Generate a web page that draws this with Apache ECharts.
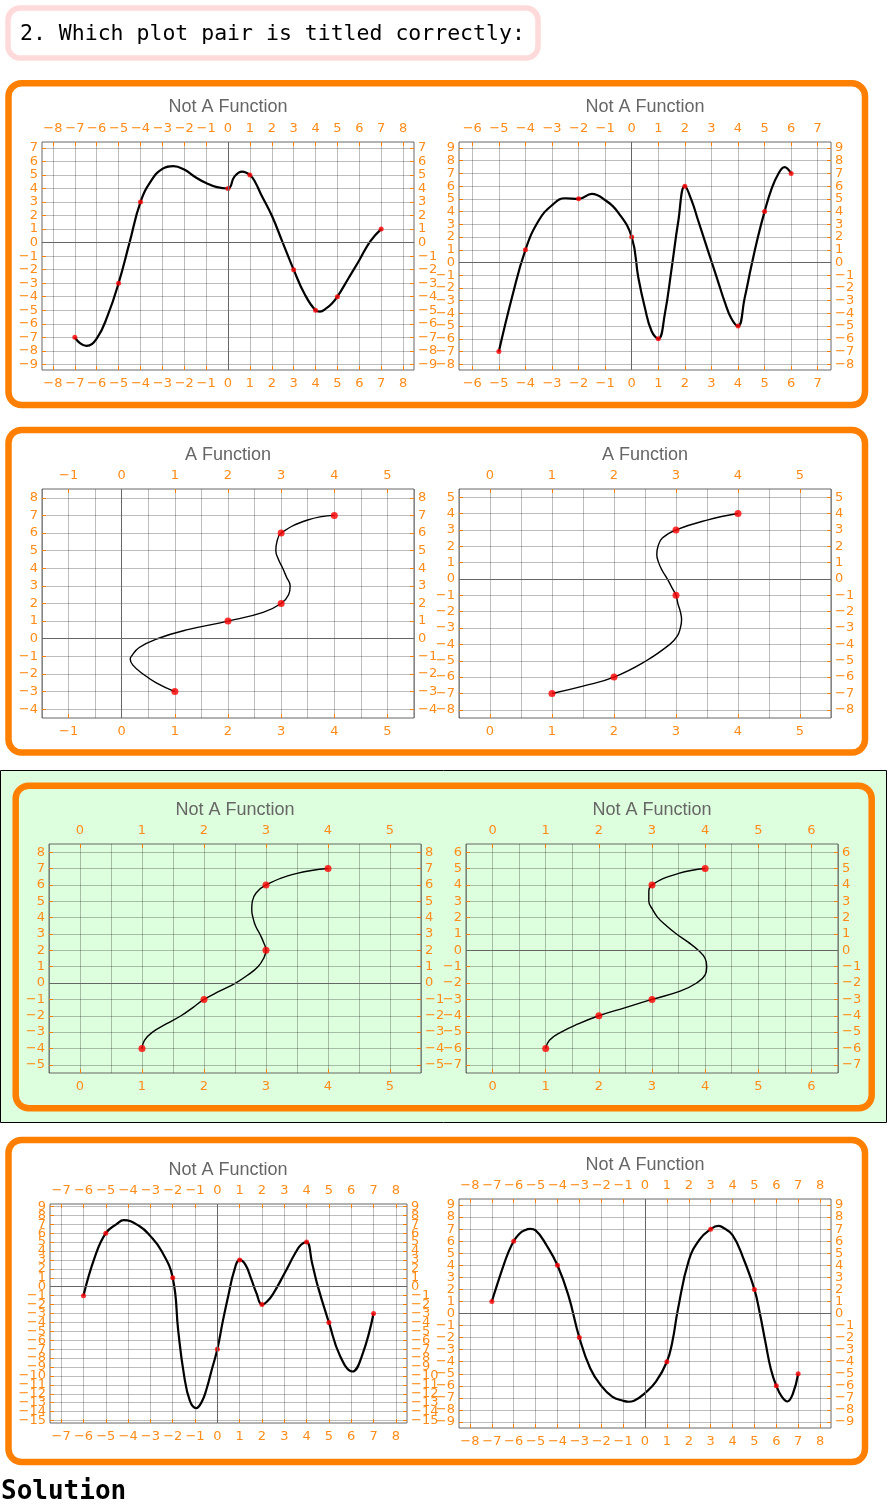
<!DOCTYPE html>
<html><head><meta charset="utf-8">
<script src="https://cdn.jsdelivr.net/npm/echarts@6.0.0/dist/echarts.min.js"></script>
<style>html,body{margin:0;padding:0;background:#fff}#c{width:888px;height:1508px}</style>
</head><body><div id="c"></div>
<script>
// ---------------- DATA ----------------
const questionText = '2. Which plot pair is titled correctly:';
const solutionText = 'Solution';
const titles = ['Not A Function','Not A Function','A Function','A Function','Not A Function','Not A Function','Not A Function','Not A Function'];

// Plot 1
const p1PtX = [-7,-5,-4,0,1,3,4,5,7];
const p1PtY = [-7,-3,3,4,5,-2,-5,-4,1];
const p1CurveX = [-7,-6.75,-6.47,-6,-5.5,-5,-4.5,-4,-3.5,-3,-2.5,-2,-1.5,-1,-0.5,0,0.3,0.65,1,1.25,1.5,2,2.5,3,3.5,4,4.2,4.5,4.75,5,5.5,6,6.5,7];
const p1CurveY = [-7,-7.45,-7.64,-7.1,-5.4,-3,0,3,4.6,5.45,5.65,5.4,4.85,4.4,4.1,4,4.9,5.25,5,4.45,3.6,2,0,-2,-3.8,-5,-5.1,-4.85,-4.5,-4,-2.65,-1.3,0.1,1];
const p1XRange = [-8.5,8.5], p1YRange = [-9.42,7.44];
const p1XTicks = [-8,-7,-6,-5,-4,-3,-2,-1,0,1,2,3,4,5,6,7,8];
const p1YTicks = [-9,-8,-7,-6,-5,-4,-3,-2,-1,0,1,2,3,4,5,6,7];

// Plot 2
const p2PtX = [-5,-4,-2,0,1,2,4,5,6];
const p2PtY = [-7,1,5,2,-6,6,-5,4,7];
const p2CurveX = [-5,-4.5,-4,-3.5,-3,-2.5,-2,-1.5,-1,-0.5,0,0.25,0.5,0.75,1,1.25,1.5,1.75,2,2.25,2.5,2.75,3,3.25,3.5,3.75,4,4.25,4.5,4.75,5,5.25,5.5,5.75,6];
const p2CurveY = [-7,-2.7,1,3.3,4.5,5.05,5,5.4,4.9,3.9,2,-1.2,-3.6,-5.4,-6,-4,-0.5,3.2,6,4.9,3.3,1.7,0.1,-1.5,-3.1,-4.4,-5,-2.8,-0.3,2,4,5.7,6.9,7.5,7];
const p2XRange = [-6.5,7.5], p2YRange = [-8.45,9.47];
const p2XTicks = [-6,-5,-4,-3,-2,-1,0,1,2,3,4,5,6,7];
const p2YTicks = [-8,-7,-6,-5,-4,-3,-2,-1,0,1,2,3,4,5,6,7,8,9];

// Plot 3
const p3PtX = [1,2,3,3,4];
const p3PtY = [-3,1,2,6,7];
const p3CurveX = [1,0.65,0.4,0.21,0.16,0.18,0.33,0.67,1.22,2,2.66,3,3.14,3.17,3.1,3.03,2.95,2.9,2.92,3,3.5,4];
const p3CurveY = [-3,-2.5,-2,-1.5,-1.15,-1,-0.5,0,0.5,1,1.5,2,2.5,3,3.5,4,4.5,5,5.5,6,6.74,7];
const p3XRange = [-1.5,5.5], p3YRange = [-4.5,8.5];
const p3XTicks = [-1,0,1,2,3,4,5];
const p3YTicks = [-4,-3,-2,-1,0,1,2,3,4,5,6,7,8];
const p3XGrid = [-1.5,-1,-0.5,0,0.5,1,1.5,2,2.5,3,3.5,4,4.5,5,5.5];

// Plot 4
const p4PtX = [1,2,3,3,4];
const p4PtY = [-7,-6,-1,3,4];
const p4CurveX = [1,1.5,2,2.52,2.9,3.02,3.07,3.09,3.07,3.03,3,2.93,2.86,2.78,2.72,2.69,2.71,2.78,3,3.5,4];
const p4CurveY = [-7,-6.55,-6,-5,-4,-3.5,-3,-2.5,-2,-1.5,-1,-0.5,0,0.5,1,1.5,2,2.5,3,3.6,4];
const p4XRange = [-0.5,5.5], p4YRange = [-8.5,5.5];
const p4XTicks = [0,1,2,3,4,5];
const p4YTicks = [-8,-7,-6,-5,-4,-3,-2,-1,0,1,2,3,4,5];
const p4XGrid = [-0.5,0,0.5,1,1.5,2,2.5,3,3.5,4,4.5,5,5.5];

// Plot 5
const p5PtX = [1,2,3,3,4];
const p5PtY = [-4,-1,2,6,7];
const p5CurveX = [1,1.04,1.17,1.39,1.63,1.82,2,2.25,2.51,2.71,2.87,2.96,3,2.96,2.9,2.83,2.79,2.77,2.78,2.84,3,3.5,4];
const p5CurveY = [-4,-3.5,-3,-2.5,-2,-1.5,-1,-0.5,0,0.5,1,1.5,2,2.5,3,3.5,4,4.5,5,5.5,6,6.7,7];
const p5XRange = [-0.5,5.5], p5YRange = [-5.5,8.5];
const p5XTicks = [0,1,2,3,4,5];
const p5YTicks = [-5,-4,-3,-2,-1,0,1,2,3,4,5,6,7,8];
const p5XGrid = [-0.5,0,0.5,1,1.5,2,2.5,3,3.5,4,4.5,5,5.5];

// Plot 6
const p6PtX = [1,2,3,3,4];
const p6PtY = [-6,-4,-3,4,5];
const p6CurveX = [1,1.07,1.29,1.61,2,2.5,3,3.53,3.84,4,4.03,4,3.87,3.68,3.46,3.27,3.11,3.01,2.94,2.94,3,3.5,4];
const p6CurveY = [-6,-5.5,-5,-4.5,-4,-3.5,-3,-2.5,-2,-1.5,-1,-0.5,0,0.5,1,1.5,2,2.5,3,3.5,4,4.7,5];
const p6XRange = [-0.5,6.5], p6YRange = [-7.5,6.5];
const p6XTicks = [0,1,2,3,4,5,6];
const p6YTicks = [-7,-6,-5,-4,-3,-2,-1,0,1,2,3,4,5,6];
const p6XGrid = [-0.5,0,0.5,1,1.5,2,2.5,3,3.5,4,4.5,5,5.5,6,6.5];

// Plot 7
const p7PtX = [-6,-5,-2,0,1,2,4,5,7];
const p7PtY = [-1,6,1,-7,3,-2,5,-4,-3];
const p7CurveX = [-6,-5.5,-5,-4.5,-4.2,-3.5,-3,-2.5,-2,-1.75,-1.5,-1.23,-0.95,-0.7,-0.5,-0.25,0,0.25,0.5,0.75,1,1.25,1.5,1.75,2,2.25,2.5,3,3.5,3.75,4,4.25,4.5,5,5.5,6.05,6.5,7];
const p7CurveY = [-1,3.25,6,7.05,7.46,6.8,5.67,4,1,-5,-9.8,-12.8,-13.6,-12.9,-11.6,-9.3,-7,-3.8,-0.9,1.75,3,2.5,1,-0.7,-2,-1.6,-0.8,1.45,3.8,4.7,5,2.6,0.07,-4,-7.76,-9.5,-7.6,-3];
const p7XRange = [-7.5,8.5], p7YRange = [-15.27,9.27];
const p7XTicks = [-7,-6,-5,-4,-3,-2,-1,0,1,2,3,4,5,6,7,8];
const p7YTicks = [-15,-14,-13,-12,-11,-10,-9,-8,-7,-6,-5,-4,-3,-2,-1,0,1,2,3,4,5,6,7,8,9];

// Plot 8
const p8PtX = [-7,-6,-4,-3,1,3,5,6,7];
const p8PtY = [1,6,4,-2,-4,7,2,-6,-5];
const p8CurveX = [-7,-6.5,-6.25,-6,-5.75,-5.5,-5.25,-5,-4.5,-4,-3.5,-3,-2.5,-2,-1.5,-1,-0.75,-0.5,0,0.5,1,1.25,1.5,2,2.5,3,3.35,3.5,4,4.5,5,5.25,5.5,5.75,6,6.25,6.5,6.75,7];
const p8CurveY = [1,3.8,5.05,6,6.6,6.9,7.02,6.9,5.66,4,1.5,-2,-4.56,-6,-6.9,-7.24,-7.32,-7.24,-6.6,-5.66,-4,-2.35,0.3,4.4,6.16,7,7.27,7.2,6.5,4.55,2,0,-2.35,-4.6,-6,-6.9,-7.3,-6.7,-5];
const p8XRange = [-8.5,8.5], p8YRange = [-9.5,9.5];
const p8XTicks = [-8,-7,-6,-5,-4,-3,-2,-1,0,1,2,3,4,5,6,7,8];
const p8YTicks = [-9,-8,-7,-6,-5,-4,-3,-2,-1,0,1,2,3,4,5,6,7,8,9];

// ---------------- LAYOUT / STYLE ----------------
const layout = [
  {left:42,  top:142,  width:372, height:228, titleX:228, titleY:107,  big:true,  zeroV:true},
  {left:459, top:142,  width:372, height:228, titleX:645, titleY:107,  big:true,  zeroV:true},
  {left:42,  top:489,  width:372, height:229, titleX:228, titleY:455,  big:false, zeroV:true},
  {left:459, top:489,  width:372, height:229, titleX:645, titleY:455,  big:false, zeroV:false},
  {left:49,  top:844,  width:372, height:229, titleX:235, titleY:810,  big:false, zeroV:false},
  {left:466, top:844,  width:372, height:229, titleX:652, titleY:810,  big:false, zeroV:false},
  {left:50,  top:1204, width:357, height:219, titleX:228, titleY:1170, big:true,  zeroV:true},
  {left:459, top:1199, width:372, height:229, titleX:645, titleY:1165, big:true,  zeroV:true}
];
const ORANGE = '#ff8000';
const LABEL = '#ff8c1a';
const FONT = '"Liberation Sans", Arial, sans-serif';
const TICKFONT = '"DejaVu Sans", sans-serif';
const MONO = '"DejaVu Sans Mono", monospace';
const GRIDC = 'rgba(0,0,0,0.26)';

const plots = [
  {ptX:p1PtX, ptY:p1PtY, cX:p1CurveX, cY:p1CurveY, xr:p1XRange, yr:p1YRange, xt:p1XTicks, yt:p1YTicks, xg:p1XTicks},
  {ptX:p2PtX, ptY:p2PtY, cX:p2CurveX, cY:p2CurveY, xr:p2XRange, yr:p2YRange, xt:p2XTicks, yt:p2YTicks, xg:p2XTicks},
  {ptX:p3PtX, ptY:p3PtY, cX:p3CurveX, cY:p3CurveY, xr:p3XRange, yr:p3YRange, xt:p3XTicks, yt:p3YTicks, xg:p3XGrid},
  {ptX:p4PtX, ptY:p4PtY, cX:p4CurveX, cY:p4CurveY, xr:p4XRange, yr:p4YRange, xt:p4XTicks, yt:p4YTicks, xg:p4XGrid},
  {ptX:p5PtX, ptY:p5PtY, cX:p5CurveX, cY:p5CurveY, xr:p5XRange, yr:p5YRange, xt:p5XTicks, yt:p5YTicks, xg:p5XGrid},
  {ptX:p6PtX, ptY:p6PtY, cX:p6CurveX, cY:p6CurveY, xr:p6XRange, yr:p6YRange, xt:p6XTicks, yt:p6YTicks, xg:p6XGrid},
  {ptX:p7PtX, ptY:p7PtY, cX:p7CurveX, cY:p7CurveY, xr:p7XRange, yr:p7YRange, xt:p7XTicks, yt:p7YTicks, xg:p7XTicks},
  {ptX:p8PtX, ptY:p8PtY, cX:p8CurveX, cY:p8CurveY, xr:p8XRange, yr:p8YRange, xt:p8XTicks, yt:p8YTicks, xg:p8XTicks}
];

const fmt = v => (v < 0 ? '\u2212' + Math.abs(v) : String(v));

function labelAxis(dim, gi, pos, range, ticks) {
  const isX = dim === 'x';
  const label = {show: true, customValues: ticks, formatter: fmt, color: LABEL, fontSize: 13, fontFamily: TICKFONT, hideOverlap: false};
  label.margin = isX ? (pos === 'bottom' ? 7.5 : 7) : 4;
  return {
    type: 'value', gridIndex: gi, position: pos, min: range[0], max: range[1],
    axisLine: {show: false, onZero: false},
    axisTick: {show: true, inside: true, length: 4, customValues: ticks, lineStyle: {color: ORANGE, width: 1}},
    axisLabel: label,
    splitLine: {show: false}, minorTick: {show: false}, minorSplitLine: {show: false}
  };
}
function gridAxis(dim, gi, range, vals) {
  return {
    type: 'value', gridIndex: gi, position: dim === 'x' ? 'bottom' : 'left', min: range[0], max: range[1],
    axisLine: {show: false, onZero: false},
    axisTick: {show: false, customValues: vals},
    axisLabel: {show: false, customValues: vals},
    splitLine: {show: true, lineStyle: {color: GRIDC, width: 1}}
  };
}
// dense y labels are split over two axes per side (alternate ticks) so none gets auto-dropped
const evens = a => a.filter((v, k) => k % 2 === 0);
const odds = a => a.filter((v, k) => k % 2 === 1);

const grid = [], xAxis = [], yAxis = [], series = [];
const graphic = [
  {type: 'rect', z: -20, shape: {x: 8, y: 8, width: 530, height: 50, r: 12}, style: {fill: '#fff', stroke: '#ffdada', lineWidth: 5.5}},
  {type: 'text', z: -19, x: 20, y: 34, style: {text: questionText, font: '21.5px ' + MONO, fill: '#000', align: 'left', verticalAlign: 'middle', textAlign: 'left', textVerticalAlign: 'middle'}},
  {type: 'rect', z: -20, shape: {x: 8.5, y: 83.3, width: 856.5, height: 321.7, r: 13}, style: {fill: 'none', stroke: ORANGE, lineWidth: 6.5}},
  {type: 'rect', z: -20, shape: {x: 8.5, y: 430, width: 856.5, height: 322.5, r: 13}, style: {fill: 'none', stroke: ORANGE, lineWidth: 6.5}},
  {type: 'rect', z: -22, shape: {x: 0.5, y: 770.5, width: 886, height: 352}, style: {fill: '#ddffdd', stroke: '#000', lineWidth: 1}},
  {type: 'rect', z: -20, shape: {x: 15.7, y: 785.7, width: 856, height: 322.6, r: 13}, style: {fill: 'none', stroke: ORANGE, lineWidth: 6.5}},
  {type: 'rect', z: -20, shape: {x: 8.5, y: 1140, width: 856.5, height: 322, r: 13}, style: {fill: 'none', stroke: ORANGE, lineWidth: 6.5}},
  {type: 'text', z: -19, x: 1, y: 1492, style: {text: solutionText, font: 'bold 26px ' + MONO, fill: '#000', align: 'left', verticalAlign: 'middle', textAlign: 'left', textVerticalAlign: 'middle'}}
];

plots.forEach((p, i) => {
  const L = layout[i];
  const lw = L.big ? 2.2 : 1.4;
  const ps = L.big ? 5 : 7;
  grid.push({left: L.left, top: L.top, width: L.width, height: L.height, show: true, borderColor: '#666', borderWidth: 1, backgroundColor: 'transparent'});
  xAxis.push(labelAxis('x', i, 'bottom', p.xr, p.xt), labelAxis('x', i, 'top', p.xr, p.xt), gridAxis('x', i, p.xr, p.xg));
  yAxis.push(
    labelAxis('y', i, 'left', p.yr, evens(p.yt)), labelAxis('y', i, 'left', p.yr, odds(p.yt)),
    labelAxis('y', i, 'right', p.yr, evens(p.yt)), labelAxis('y', i, 'right', p.yr, odds(p.yt)),
    gridAxis('y', i, p.yr, p.yt));
  const xi = 3 * i, yi = 5 * i;
  const zl = [{yAxis: 0}];
  if (L.zeroV) zl.push({xAxis: 0});
  series.push({
    type: 'line', xAxisIndex: xi, yAxisIndex: yi, data: [], z: 2, silent: true, animation: false,
    markLine: {silent: true, animation: false, symbol: ['none', 'none'], label: {show: false},
      lineStyle: {color: '#666', width: 1, type: 'solid'}, emphasis: {disabled: true}, data: zl}
  });
  series.push({
    type: 'line', xAxisIndex: xi, yAxisIndex: yi, z: 3,
    data: p.cX.map((x, k) => [x, p.cY[k]]), smooth: 0.45, showSymbol: false, symbol: 'none',
    lineStyle: {color: '#000', width: lw}, silent: true, animation: false
  });
  series.push({
    type: 'scatter', xAxisIndex: xi, yAxisIndex: yi, z: 4,
    data: p.ptX.map((x, k) => [x, p.ptY[k]]), symbol: 'circle', symbolSize: ps,
    itemStyle: {color: '#ff0000'}, silent: true, animation: false
  });
  graphic.push({type: 'text', z: 5, x: L.titleX, y: L.titleY,
    style: {text: titles[i], font: '18px ' + FONT, fill: '#666', align: 'center', verticalAlign: 'middle', textAlign: 'center', textVerticalAlign: 'middle'}});
});

const chart = echarts.init(document.getElementById('c'), null, {renderer: 'canvas'});
chart.setOption({
  backgroundColor: '#fff',
  animation: false,
  grid, xAxis, yAxis, series, graphic
});
</script></body></html>
